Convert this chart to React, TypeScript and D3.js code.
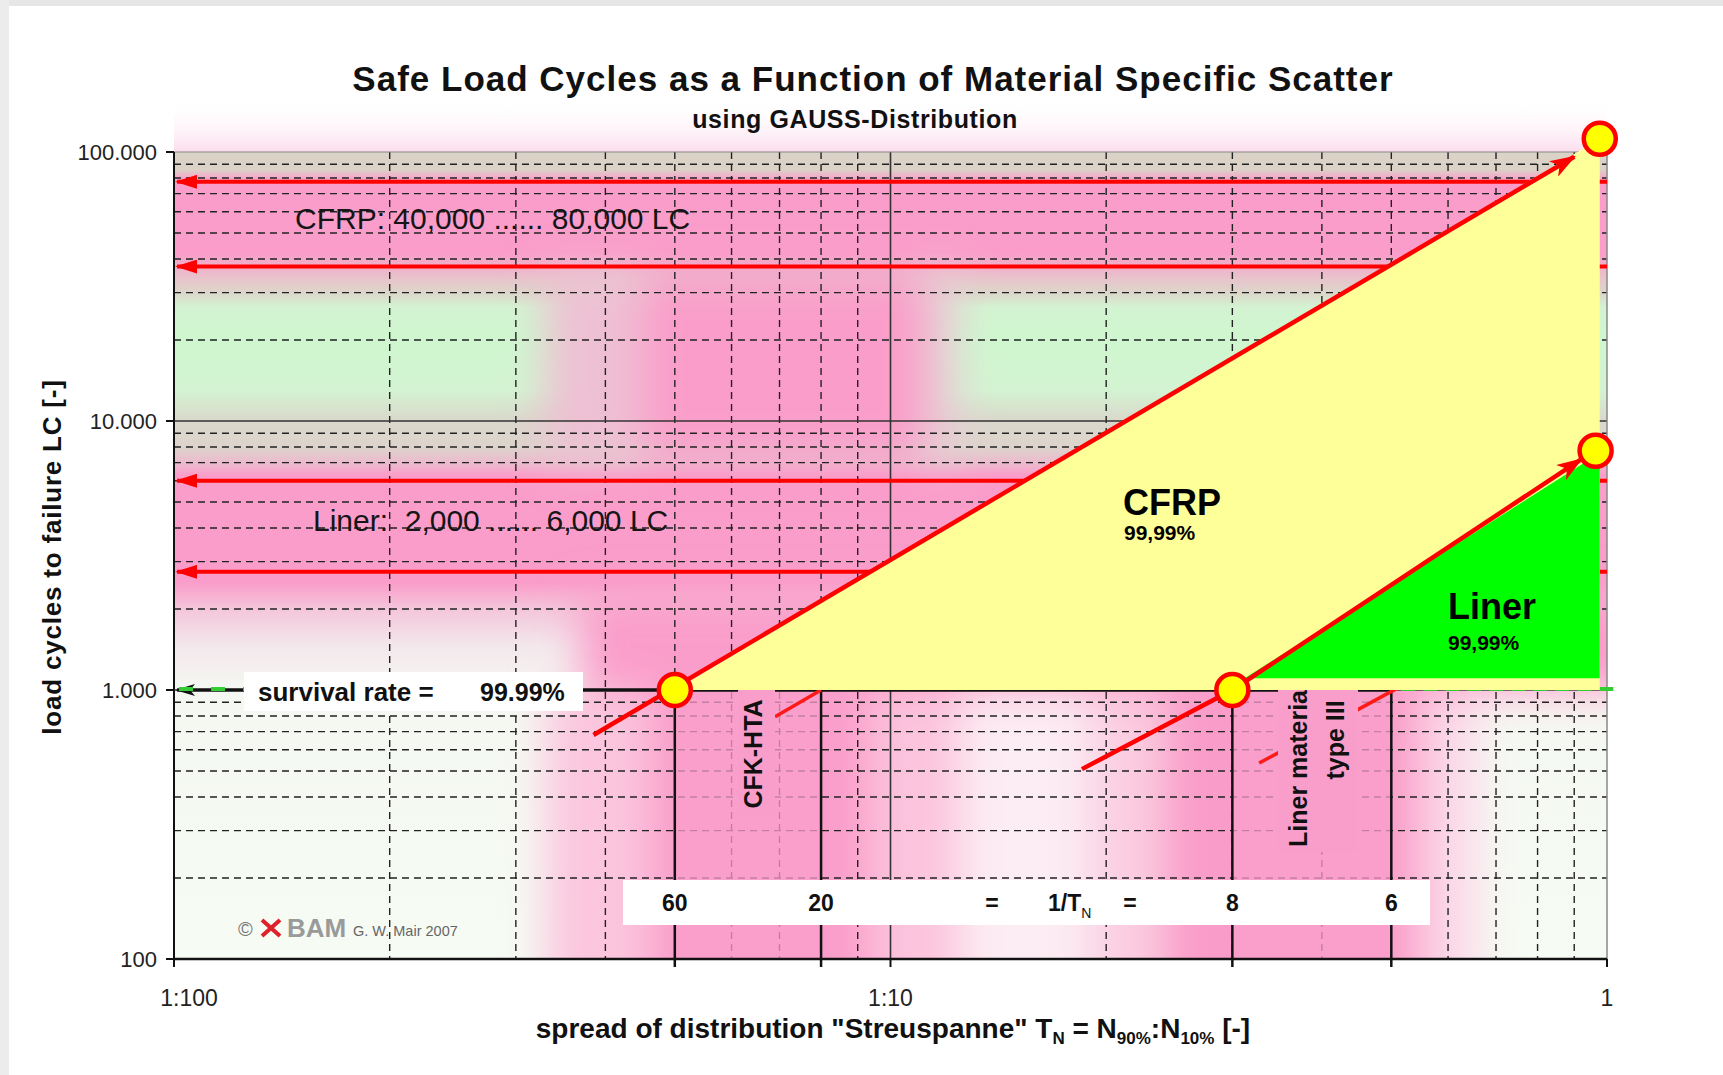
import React, { useEffect } from 'react';
import * as d3 from 'd3';

// ---------- data ----------
const titleText = 'Safe Load Cycles as a Function of Material Specific Scatter';
const subtitleText = 'using GAUSS-Distribution';
const yAxisTitle = 'load cycles to failure LC [-]';

const xDomain = [0.01, 1];
const yDomain = [100, 100000];
const xTickValues = [0.01, 0.1, 1];
const xTickLabels = ['1:100', '1:10', '1'];
const yTickValues = [100, 1000, 10000, 100000];
const yTickLabels = ['100', '1.000', '10.000', '100.000'];

const spreadLineX = [0.05, 0.08, 0.3, 0.5];
const spreadLabels = ['60', '20', '8', '6'];

const cfrpArrowLevels = [77500, 37500];
const linerArrowLevels = [6000, 2750];
const cfrpBandText = 'CFRP: 40,000 ...... 80,000 LC';
const linerBandText = 'Liner:  2,000 ...... 6,000 LC';
const survivalLevel = 1000;
const survivalText = 'survival rate =';
const survivalValue = '99.99%';

const cfrpTriangle: number[][] = [[0.05, 1000], [0.977, 112000], [0.977, 1000]];
const linerTriangle: number[][] = [[0.312, 1105], [0.977, 7600], [0.977, 1105]];
const cfrpLine: number[][] = [[0.0385, 680], [0.9, 96000]];
const linerLine: number[][] = [[0.185, 508], [0.3, 1000], [0.92, 7200]];
const cfkShortLine: number[][] = [[0.069, 795], [0.08, 1000]];
const linerShortLine: number[][] = [[0.327, 535], [0.513, 1025]];
const markerPoints: number[][] = [[0.05, 1000], [0.3, 1000], [0.977, 112000], [0.964, 7750]];

const W = 1723;
const H = 1075;
const M = { left: 174, right: 1607, top: 152, bottom: 959 };
const FONT = "'Liberation Sans', Arial, Helvetica, sans-serif";
const PINK = '#fa9dca';

export default function App() {
  useEffect(() => {
    document.body.style.margin = '0';
    document.body.style.overflow = 'hidden';
  }, []);

  const x = d3.scaleLog().domain(xDomain).range([M.left, M.right]);
  const y = d3.scaleLog().domain(yDomain).range([M.bottom, M.top]);
  const isDecade = (v: number) => Math.abs(Math.log10(v) - Math.round(Math.log10(v))) < 1e-6;
  const xGrid = x.ticks().filter((v) => !isDecade(v));
  const yGrid = y.ticks().filter((v) => !isDecade(v));
  const line = d3.line<number[]>().x((d) => x(d[0])).y((d) => y(d[1]));
  const poly = (pts: number[][]) => line(pts) + 'Z';

  const R = (x0: number, x1: number, y0: number, y1: number, fill: string, key: string, op = 1) => (
    <rect key={key} x={x(x0)} y={y(y1)} width={x(x1) - x(x0)} height={y(y0) - y(y1)} fill={fill} opacity={op} />
  );

  // vertical background bands (value, colour)
  const bandStops: [number, string][] = [
    [100000, '#dbd3c7'],
    [86000, '#dcd2c7'],
    [80500, '#f3aacb'],
    [77000, PINK],
    [42000, PINK],
    [34000, '#e8c3cb'],
    [30000, '#dcd6ca'],
    [26500, '#d3f3d1'],
    [20000, '#cff7cf'],
    [13000, '#d3f3d1'],
    [10000, '#dad8cc'],
    [8000, '#ddd4cc'],
    [6800, '#efb5cd'],
    [6300, PINK],
    [2500, PINK],
    [2000, '#f4c6da'],
    [1450, '#f3e8ec'],
    [1000, '#f5f8f2'],
    [100, '#f6fbf4'],
  ];
  const span = M.bottom - M.top;

  const ySurv = y(survivalLevel);

  return (
    <svg width={W} height={H} style={{ position: 'absolute', left: 0, top: 0, fontFamily: FONT }}>
      <defs>
        <clipPath id="plotClip">
          <rect x={M.left} y={M.top} width={M.right - M.left} height={M.bottom - M.top} />
        </clipPath>
        <filter id="bgBlur" x="-20%" y="-20%" width="140%" height="140%">
          <feGaussianBlur stdDeviation="20" />
        </filter>
        <linearGradient id="bandGrad" x1="0" y1="0" x2="0" y2="1">
          {bandStops.map(([v, c], i) => (
            <stop key={i} offset={(y(v) - M.top) / span} stopColor={c} />
          ))}
        </linearGradient>
        <linearGradient id="topGlow" x1="0" y1="0" x2="0" y2="1">
          <stop offset="0" stopColor="#ffffff" stopOpacity="0" />
          <stop offset="1" stopColor="#fbdcec" stopOpacity="1" />
        </linearGradient>
        <marker id="redArrow" viewBox="0 0 22 14" refX="20" refY="7" markerWidth="22" markerHeight="14"
          markerUnits="userSpaceOnUse" orient="auto">
          <path d="M0,0 L22,7 L0,14 Z" fill="#ff0000" />
        </marker>
        <marker id="redStealth" viewBox="0 0 26 18" refX="24" refY="9" markerWidth="26" markerHeight="18"
          markerUnits="userSpaceOnUse" orient="auto">
          <path d="M0,0 L26,9 L0,18 L7,9 Z" fill="#ff0000" />
        </marker>
        <marker id="blackArrow" viewBox="0 0 20 12" refX="18" refY="6" markerWidth="20" markerHeight="12"
          markerUnits="userSpaceOnUse" orient="auto">
          <path d="M0,0 L20,6 L0,12 L5,6 Z" fill="#111" />
        </marker>
      </defs>

      {/* page */}
      <rect x={0} y={0} width={W} height={H} fill="#ffffff" />
      <rect x={0} y={0} width={W} height={6} fill="#e6e6e6" />
      <rect x={0} y={0} width={9} height={H} fill="#ececec" />

      {/* glow above plot */}
      <rect x={M.left} y={100} width={M.right - M.left} height={M.top - 100} fill="url(#topGlow)" />

      {/* plot background */}
      <rect x={M.left} y={M.top} width={M.right - M.left} height={span} fill="url(#bandGrad)" />
      <g clipPath="url(#plotClip)">
        <g filter="url(#bgBlur)">
          {R(0.033, 0.045, 7000, 36000, '#eec0d3', 'colL')}
          {R(0.045, 0.112, 7000, 36000, PINK, 'col')}
          {R(0.112, 0.124, 7000, 36000, '#e8cdd6', 'colR')}
          {R(0.037, 2, 990, 2300, PINK, 'midR')}
          {R(0.033, 0.046, 50, 990, '#fbc6de', 'cfkL')}
          {R(0.046, 0.094, 50, 990, PINK, 'cfk')}
          {R(0.094, 0.125, 50, 990, '#fcc4dd', 'cfkR')}
          {R(0.125, 0.19, 50, 990, '#fcecf3', 'midW')}
          {R(0.19, 0.24, 50, 990, '#fbcde1', 'lnL')}
          {R(0.24, 0.55, 50, 990, '#f99cc9', 'ln')}
          {R(0.55, 0.66, 50, 990, '#fcd8e8', 'lnR')}
        </g>
      </g>

      {/* grid */}
      <g>
        {yGrid.map((v, i) => (
          <line key={'hy' + i} x1={M.left} x2={M.right} y1={y(v)} y2={y(v)} stroke="#222" strokeWidth={1.4}
            strokeDasharray="7,5" />
        ))}
        {xGrid.map((v, i) => (
          <line key={'vx' + i} x1={x(v)} x2={x(v)} y1={M.top} y2={M.bottom} stroke="#222" strokeWidth={1.4}
            strokeDasharray="7,5" />
        ))}
        <line x1={M.left} x2={M.right} y1={y(10000)} y2={y(10000)} stroke="#333" strokeWidth={1.6} />
        <line x1={M.left} x2={M.right} y1={y(1000)} y2={y(1000)} stroke="#444" strokeWidth={1.6} />
        <line x1={x(0.1)} x2={x(0.1)} y1={M.top} y2={M.bottom} stroke="#333" strokeWidth={1.6} />
        <line x1={M.left} x2={M.right} y1={M.top} y2={M.top} stroke="#888" strokeWidth={1.2} />
        <line x1={M.right} x2={M.right} y1={M.top} y2={M.bottom} stroke="#888" strokeWidth={1.5} />
      </g>

      {/* pink covering between spread line pairs below survival line */}
      {R(spreadLineX[0], spreadLineX[1], yDomain[0], survivalLevel, '#f99fcb', 'cv1', 0.75)}
      {R(spreadLineX[2], spreadLineX[3], yDomain[0], survivalLevel, '#f99fcb', 'cv2', 0.75)}

      {/* axes */}
      <line x1={M.left} x2={M.left} y1={M.top} y2={M.bottom} stroke="#111" strokeWidth={2} />
      <line x1={M.left} x2={M.right} y1={M.bottom} y2={M.bottom} stroke="#111" strokeWidth={2.5} />
      {yTickValues.map((v, i) => (
        <line key={'yt' + i} x1={M.left - 8} x2={M.left} y1={y(v)} y2={y(v)} stroke="#111" strokeWidth={2} />
      ))}
      {xTickValues.map((v, i) => (
        <line key={'xt' + i} x1={x(v)} x2={x(v)} y1={M.bottom} y2={M.bottom + 8} stroke="#111" strokeWidth={2} />
      ))}

      {/* red horizontal range arrows */}
      {[...cfrpArrowLevels, ...linerArrowLevels].map((v, i) => (
        <line key={'ra' + i} x1={x(1)} x2={x(0.0101)} y1={y(v)} y2={y(v)} stroke="#ff0000" strokeWidth={4}
          markerEnd="url(#redArrow)" />
      ))}
      <text x={295} y={229} fontSize={30} fill="#151515" style={{ whiteSpace: 'pre' }}>
        {cfrpBandText}
      </text>
      <text x={313} y={531} fontSize={30} fill="#151515" style={{ whiteSpace: 'pre' }}>
        {linerBandText}
      </text>

      {/* spread vertical lines */}
      {spreadLineX.map((v, i) => (
        <line key={'sl' + i} x1={x(v)} x2={x(v)} y1={ySurv} y2={M.bottom + 8} stroke="#111" strokeWidth={2.5} />
      ))}

      {/* survival line */}
      <line x1={x(spreadLineX[3])} x2={x(0.0101)} y1={ySurv} y2={ySurv} stroke="#111" strokeWidth={3.5}
        markerEnd="url(#blackArrow)" />
      <line x1={x(0.0101)} x2={x(0.0198)} y1={ySurv - 1} y2={ySurv - 1} stroke="#33cc33" strokeWidth={4}
        strokeDasharray="14,18" strokeDashoffset={-2} />
      <line x1={x(spreadLineX[3]) + 10} x2={x(1) + 10} y1={ySurv - 1} y2={ySurv - 1} stroke="#33cc33" strokeWidth={4}
        strokeDasharray="14,8" />

      {/* short red lines */}
      <path d={line(cfkShortLine)!} stroke="#ff1a1a" strokeWidth={3.5} fill="none" />
      <path d={line(linerShortLine)!} stroke="#ff1a1a" strokeWidth={3.5} fill="none" />

      {/* rotated labels with pink backgrounds */}
      <rect x={738} y={ySurv} width={37} height={125} fill="#f99ecb" />
      <text transform={`translate(753,754) rotate(-90)`} textAnchor="middle" dominantBaseline="central"
        fontSize={25} fontWeight="bold" fill="#111">CFK-HTA</text>
      <rect x={1278} y={ySurv} width={80} height={162} fill="#f99ecb" />
      <text transform={`translate(1298,847) rotate(-90)`} textAnchor="start" dominantBaseline="central"
        fontSize={25} fontWeight="bold" fill="#111">Liner material</text>
      <text transform={`translate(1335,740) rotate(-90)`} textAnchor="middle" dominantBaseline="central"
        fontSize={25} fontWeight="bold" fill="#111">type III</text>

      {/* survival label box */}
      <rect x={244} y={672} width={339} height={39} fill="#ffffff" />
      <text x={258} y={701} fontSize={26} fontWeight="bold" fill="#111">{survivalText}</text>
      <text x={480} y={701} fontSize={25} fontWeight="bold" fill="#111">{survivalValue}</text>

      {/* bottom label box */}
      <rect x={623} y={880} width={807} height={45} fill="#ffffff" />
      {spreadLineX.map((v, i) => (
        <text key={'slab' + i} x={x(v)} y={911} textAnchor="middle" fontSize={23} fontWeight="bold" fill="#111">
          {spreadLabels[i]}
        </text>
      ))}
      <text x={992} y={911} textAnchor="middle" fontSize={23} fontWeight="bold" fill="#111">=</text>
      <text x={1048} y={911} fontSize={23} fontWeight="bold" fill="#111">
        1/T<tspan fontSize={14} fontWeight="normal" dy={7}>N</tspan>
      </text>
      <text x={1130} y={911} textAnchor="middle" fontSize={23} fontWeight="bold" fill="#111">=</text>

      {/* triangles */}
      <path d={poly(cfrpTriangle)} fill="#ffff99" />
      <path d={poly(linerTriangle)} fill="#00ff00" />

      {/* diagonal red arrows */}
      <path d={line(cfrpLine)!} stroke="#ff0000" strokeWidth={4.5} fill="none" markerEnd="url(#redStealth)" />
      <path d={line(linerLine)!} stroke="#ff0000" strokeWidth={4.5} fill="none" markerEnd="url(#redStealth)" />

      {/* markers */}
      {markerPoints.map((d, i) => (
        <circle key={'mp' + i} cx={x(d[0])} cy={y(d[1])} r={16} fill="#ffff00" stroke="#ff0000" strokeWidth={4.5} />
      ))}

      {/* triangle labels */}
      <text x={1123} y={515} fontSize={36} fontWeight="bold" fill="#000">CFRP</text>
      <text x={1124} y={540} fontSize={21} fontWeight="bold" fill="#000">99,99%</text>
      <text x={1448} y={619} fontSize={36} fontWeight="bold" fill="#000">Liner</text>
      <text x={1448} y={650} fontSize={21} fontWeight="bold" fill="#000">99,99%</text>

      {/* tick labels */}
      {yTickValues.map((v, i) => (
        <text key={'yl' + i} x={157} y={y(v)} textAnchor="end" dominantBaseline="central" fontSize={22} fill="#222">
          {yTickLabels[i]}
        </text>
      ))}
      {xTickValues.map((v, i) => (
        <text key={'xl' + i} x={x(v) + (i === 0 ? 15 : 0)} y={1006} textAnchor="middle" fontSize={23} fill="#222">
          {xTickLabels[i]}
        </text>
      ))}

      {/* titles */}
      <text x={873} y={91} textAnchor="middle" fontSize={35} fontWeight="bold" letterSpacing={1} fill="#111">
        {titleText}
      </text>
      <text x={855} y={128} textAnchor="middle" fontSize={25} fontWeight="bold" letterSpacing={0.6} fill="#111">
        {subtitleText}
      </text>
      <text transform="translate(52,557) rotate(-90)" textAnchor="middle" dominantBaseline="central" fontSize={26}
        fontWeight="bold" letterSpacing={0.8} fill="#111">
        {yAxisTitle}
      </text>
      <text x={893} y={1038} textAnchor="middle" fontSize={28} fontWeight="bold" fill="#111" style={{ whiteSpace: 'pre' }}>
        {'spread of distribution "Streuspanne" T'}
        <tspan fontSize={17} dy={6}>N</tspan>
        <tspan dy={-6}>{' = N'}</tspan>
        <tspan fontSize={17} dy={6}>90%</tspan>
        <tspan dy={-6}>{':N'}</tspan>
        <tspan fontSize={17} dy={6}>10%</tspan>
        <tspan dy={-6}>{' [-]'}</tspan>
      </text>

      {/* logo */}
      <text x={238} y={936} fontSize={20} fill="#777">©</text>
      <path d="M262,920 L280,936 M280,920 L262,936" stroke="#e0202a" strokeWidth={4} />
      <text x={287} y={937} fontSize={26} fontWeight="bold" fill="#9a9a9a">BAM</text>
      <text x={353} y={936} fontSize={14.5} fill="#666">G. W. Mair 2007</text>
    </svg>
  );
}
